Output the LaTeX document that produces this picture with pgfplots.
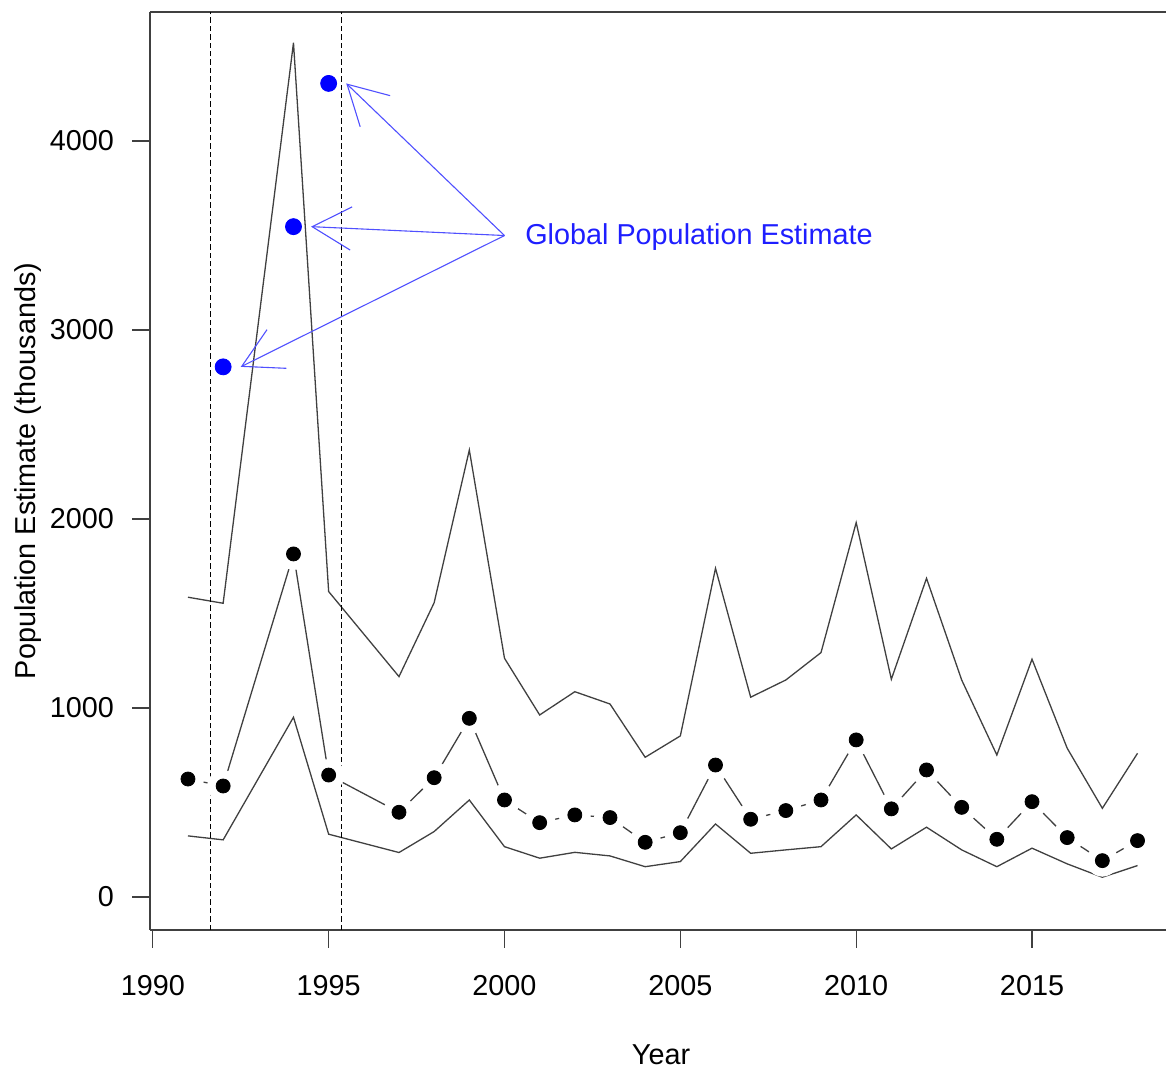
\documentclass[border=0pt]{standalone}
\usepackage{pgfplots}
\pgfplotsset{compat=1.18}
\usepackage{pgfplotstable}
\usepackage{fontspec}
\setmainfont{Liberation Sans}
\usetikzlibrary{arrows.meta}

\definecolor{linegray}{RGB}{64,64,64}
\definecolor{arrowblue}{RGB}{80,80,255}
\definecolor{textblue}{RGB}{30,30,255}

% year, lower bound, estimate, upper bound (thousands)
\pgfplotstableread{
year lower mid upper
1991 323 624 1586
1992 302 587 1554
1994 951 1815 4520
1995 332 645 1616
1997 235 448 1166
1998 346 631 1557
1999 513 945 2365
2000 266 513 1263
2001 205 393 963
2002 236 434 1086
2003 217 420 1021
2004 160 289 739
2005 187 340 852
2006 386 698 1739
2007 231 411 1057
2008 249 457 1148
2009 266 513 1293
2010 434 831 1981
2011 254 466 1152
2012 369 672 1686
2013 249 474 1148
2014 160 305 751
2015 258 504 1258
2016 175 314 787
2017 104 192 469
2018 166 298 760
}\popdata

\pgfplotstableread{
year est
1992 2805
1994 3547
1995 4305
}\globaldata

\begin{document}
\begin{tikzpicture}
\begin{axis}[
	scale only axis,
	width=508pt, height=459pt,
	xmin=1989.92, xmax=2018.81,
	ymin=-175, ymax=4683,
	axis x line*=box, axis y line*=left,
	tick pos=left, tick align=outside,
	major tick length=9pt,
	xtick={1990,1995,...,2015},
	ytick={0,1000,...,4000},
	axis line style={linegray, line width=0.65pt},
	every tick/.style={linegray, line width=0.65pt},
	/pgf/number format/1000 sep={},
	/pgf/number format/assume math mode=true,
	tick label style={font=\fontsize{14.4}{17}\selectfont, text=black},
	xticklabel style={yshift=-10pt},
	yticklabel style={xshift=-5.5pt},
	xlabel={Year}, ylabel={Population Estimate (thousands)},
	label style={font=\fontsize{14.4}{17}\selectfont},
	xlabel style={at={(axis description cs:0.503,0)}, anchor=center, yshift=-62.5pt},
	ylabel style={at={(axis description cs:-0.1201,0.5)}, anchor=center, rotate=0},
	]
	% estimate line, with gaps around the points (R type="b")
	\addplot[linegray, line width=0.65pt] table[x=year, y=mid] {\popdata};
	\addplot[white, only marks, mark=*, mark size=7.75pt] table[x=year, y=mid] {\popdata};
	\addplot[black, only marks, mark=*, mark size=3.5pt] table[x=year, y=mid] {\popdata};
	% bounds
	\addplot[linegray, line width=0.65pt] table[x=year, y=lower] {\popdata};
	\addplot[linegray, line width=0.65pt] table[x=year, y=upper] {\popdata};
	% vertical reference lines
	\addplot[black, line width=0.6pt, dash pattern=on 2.7pt off 1.5pt] coordinates {(1991.65,-175) (1991.65,4683)};
	\addplot[black, line width=0.6pt, dash pattern=on 2.7pt off 1.5pt] coordinates {(1995.37,-175) (1995.37,4683)};
	% global estimates
	\addplot[blue, only marks, mark=*, mark size=4pt] table[x=year, y=est] {\globaldata};
	\draw[arrowblue, line width=0.55pt, -{Straight Barb[length=19.5pt, width=21.6pt]}] (axis cs:2000,3500) -- (axis cs:1995.5,4305);
	\draw[arrowblue, line width=0.55pt, -{Straight Barb[length=19.5pt, width=21.6pt]}] (axis cs:2000,3500) -- (axis cs:1994.5,3547);
	\draw[arrowblue, line width=0.55pt, -{Straight Barb[length=19.5pt, width=21.6pt]}] (axis cs:2000,3500) -- (axis cs:1992.5,2805);
	\node[anchor=base west, inner sep=0pt, text=textblue, font=\fontsize{14.4}{17}\selectfont] at (axis cs:2000.58,3450) {Global Population Estimate};
\end{axis}
\pgfresetboundingbox
\path[use as bounding box] (-75pt,-69.5pt) rectangle (508pt,465pt);
\end{tikzpicture}
\end{document}
